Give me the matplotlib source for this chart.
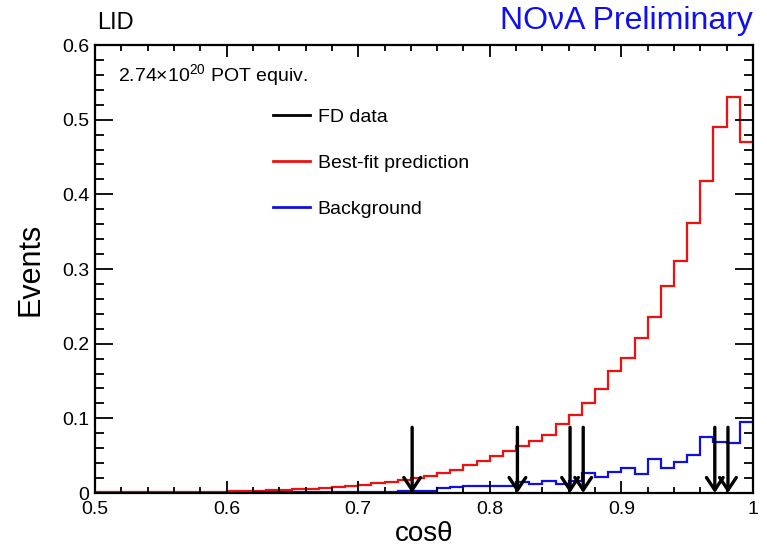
import numpy as np
import matplotlib
matplotlib.use('Agg')
import matplotlib.pyplot as plt
from matplotlib.lines import Line2D
from matplotlib.ticker import MultipleLocator

plt.rcParams['font.family'] = ['Liberation Sans', 'DejaVu Sans']
plt.rcParams['mathtext.fontset'] = 'custom'
plt.rcParams['mathtext.rm'] = 'Liberation Sans'

# bin edges of cos(theta), 0.01 wide
bin_lo = 0.5
bin_hi = 1.0
n_bins = 50

# best-fit prediction, events per bin
prediction = [0.001, 0.001, 0.001, 0.001, 0.001, 0.0015, 0.0015, 0.002, 0.002, 0.002,
              0.003, 0.003, 0.003, 0.004, 0.004, 0.005, 0.006, 0.007, 0.008, 0.009,
              0.011, 0.013, 0.015, 0.017, 0.020, 0.023, 0.027, 0.031, 0.037, 0.043,
              0.049, 0.056, 0.063, 0.070, 0.078, 0.093, 0.105, 0.121, 0.139, 0.163,
              0.181, 0.208, 0.236, 0.277, 0.311, 0.362, 0.418, 0.490, 0.531, 0.470]

# background, events per bin
background = [0.0005, 0.0005, 0.0005, 0.0005, 0.0005, 0.0005, 0.0005, 0.0005, 0.0005, 0.0005,
              0.0005, 0.0005, 0.0007, 0.0007, 0.0008, 0.0008, 0.001, 0.001, 0.001, 0.001,
              0.0015, 0.002, 0.002, 0.003, 0.003, 0.003, 0.007, 0.008, 0.009, 0.009,
              0.010, 0.010, 0.015, 0.012, 0.0165, 0.012, 0.0165, 0.027, 0.021, 0.0277,
              0.034, 0.025, 0.0455, 0.033, 0.041, 0.051, 0.0746, 0.068, 0.067, 0.0946]

# FD data events (cos theta of each candidate)
fd_events = [0.741, 0.821, 0.861, 0.871, 0.971, 0.981]
arrow_top = 0.088

edges = np.linspace(bin_lo, bin_hi, n_bins + 1)

fig = plt.figure(figsize=(7.67, 5.49), dpi=100)
ax = fig.add_axes([0.1239, 0.102, 0.8578, 0.816])

ax.stairs(prediction, edges, color='#f01010', lw=1.6, baseline=None)
ax.stairs(background, edges, color='#1010e0', lw=1.6, baseline=None)

for x in fd_events:
    ax.annotate('', xy=(x, 0), xytext=(x, arrow_top),
                arrowprops=dict(arrowstyle='->,head_length=0.45,head_width=0.3',
                                color='black', lw=2.4, mutation_scale=20,
                                shrinkA=0, shrinkB=0))

ax.set_xlim(bin_lo, bin_hi)
ax.set_ylim(0, 0.6)
ax.xaxis.set_major_locator(MultipleLocator(0.1))
ax.xaxis.set_minor_locator(MultipleLocator(0.02))
ax.yaxis.set_major_locator(MultipleLocator(0.1))
ax.yaxis.set_minor_locator(MultipleLocator(0.02))
ax.set_xticks([0.5, 0.6, 0.7, 0.8, 0.9, 1.0], ['0.5', '0.6', '0.7', '0.8', '0.9', '1'])
ax.set_yticks([0, 0.1, 0.2, 0.3, 0.4, 0.5, 0.6], ['0', '0.1', '0.2', '0.3', '0.4', '0.5', '0.6'])

ax.tick_params(axis='both', which='both', direction='in', top=True, right=True,
               labelsize=14, width=1.3, colors='black')
ax.tick_params(axis='x', which='major', length=8.5, pad=6)
ax.tick_params(axis='x', which='minor', length=4.3)
ax.tick_params(axis='y', which='major', length=13, pad=4)
ax.tick_params(axis='y', which='minor', length=6.5)
for s in ax.spines.values():
    s.set_linewidth(1.6)

ax.set_xlabel('cosθ', fontsize=20, labelpad=2)
ax.set_ylabel('Events', fontsize=22, labelpad=12)

ax.text(0.035, 0.917, '2.74×10$^{20}$ POT equiv.', transform=ax.transAxes,
        fontsize=14, va='baseline', ha='left')

handles = [Line2D([], [], color='black', lw=2),
           Line2D([], [], color='#f01010', lw=2),
           Line2D([], [], color='#1010e0', lw=2)]
ax.legend(handles, ['FD data', 'Best-fit prediction', 'Background'],
          loc='upper left', bbox_to_anchor=(0.2705, 0.858), frameon=False,
          fontsize=14, handlelength=1.9, handletextpad=0.4, labelspacing=1.45,
          borderpad=0, borderaxespad=0)

fig.text(0.1265, 0.947, 'LID', fontsize=17, va='baseline', ha='left')
fig.text(0.981, 0.947, 'NOνA Preliminary', fontsize=23, va='baseline', ha='right',
         color='#1010ee')

fig.savefig('out.png', dpi=100)
